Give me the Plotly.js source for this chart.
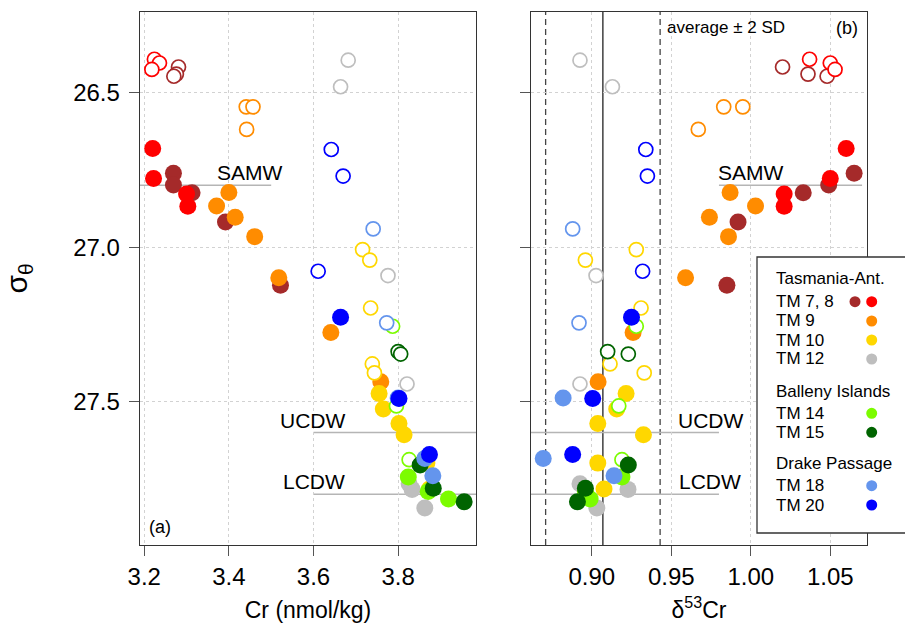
<!DOCTYPE html>
<html>
<head>
<meta charset="utf-8">
<script src="https://cdn.plot.ly/plotly-3.0.1.min.js"></script>
<style>html,body{margin:0;padding:0;background:#fff;}#chart{width:905px;height:632px;}</style>
</head>
<body>
<div id="chart"></div>
<script>
// ---------------- DATA ----------------
// Station groups (draw order)
const stationNames  = ['TM 7', 'TM 8', 'TM 9', 'TM 10', 'TM 12', 'TM 14', 'TM 15', 'TM 18', 'TM 20'];
const stationColors = ['#A52A2A', '#FF0000', '#FF8C00', '#FFD700', '#BEBEBE', '#7CFC00', '#006400', '#6495ED', '#0000FF'];

// sigma-theta, Cr (nmol/kg), d53Cr, open (1 = open symbol)
const tm7_sigma = [26.417, 26.440, 26.447, 26.761, 26.799, 26.824, 26.919, 27.123];
const tm7_cr    = [3.281, 3.276, 3.270, 3.269, 3.269, 3.313, 3.392, 3.522];
const tm7_d53   = [1.020, 1.036, 1.048, 1.065, 1.049, 1.033, 0.992, 0.985];
const tm7_open  = [1, 1, 1, 0, 0, 0, 0, 0];

const tm8_sigma = [26.392, 26.404, 26.425, 26.681, 26.778, 26.828, 26.868];
const tm8_cr    = [3.224, 3.236, 3.218, 3.220, 3.222, 3.300, 3.303];
const tm8_d53   = [1.037, 1.050, 1.053, 1.060, 1.050, 1.021, 1.021];
const tm8_open  = [1, 1, 1, 0, 0, 0, 0];

const tm9_sigma = [26.546, 26.546, 26.619, 26.823, 26.867, 26.903, 26.966, 27.099, 27.276, 27.436];
const tm9_cr    = [3.441, 3.457, 3.442, 3.400, 3.371, 3.415, 3.461, 3.518, 3.641, 3.759];
const tm9_d53   = [0.983, 0.995, 0.967, 0.987, 1.003, 0.974, 0.986, 0.959, 0.926, 0.904];
const tm9_open  = [1, 1, 1, 0, 0, 0, 0, 0, 0, 0];

const tm10_sigma = [27.008, 27.042, 27.197, 27.378, 27.407, 27.474, 27.524, 27.571, 27.607, 27.699, 27.783];
const tm10_cr    = [3.716, 3.733, 3.735, 3.739, 3.744, 3.755, 3.765, 3.802, 3.814, 3.868, 3.874];
const tm10_d53   = [0.928, 0.896, 0.931, 0.9115, 0.933, 0.9216, 0.9157, 0.9038, 0.9325, 0.9038, 0.9077];
const tm10_open  = [1, 1, 1, 1, 1, 0, 0, 0, 0, 0, 0];

const tm12_sigma = [26.395, 26.481, 27.092, 27.443, 27.766, 27.784, 27.844];
const tm12_cr    = [3.682, 3.664, 3.776, 3.821, 3.826, 3.833, 3.863];
const tm12_d53   = [0.8926, 0.913, 0.9027, 0.8926, 0.8926, 0.9228, 0.9032];
const tm12_open  = [1, 1, 1, 1, 0, 0, 0];

const tm14_sigma = [27.256, 27.514, 27.688, 27.744, 27.791, 27.815];
const tm14_cr    = [3.787, 3.796, 3.826, 3.824, 3.871, 3.919];
const tm14_d53   = [0.928, 0.917, 0.919, 0.919, 0.896, 0.899];
const tm14_open  = [1, 1, 1, 0, 0, 0];

const tm15_sigma = [27.338, 27.346, 27.705, 27.780, 27.824];
const tm15_cr    = [3.800, 3.806, 3.852, 3.883, 3.956];
const tm15_d53   = [0.910, 0.923, 0.923, 0.896, 0.891];
const tm15_open  = [1, 1, 0, 0, 0];

const tm18_sigma = [26.941, 27.245, 27.488, 27.684, 27.740];
const tm18_cr    = [3.741, 3.773, 3.800, 3.863, 3.882];
const tm18_d53   = [0.888, 0.892, 0.882, 0.8695, 0.914];
const tm18_open  = [1, 1, 0, 0, 0];

const tm20_sigma = [26.684, 26.770, 27.078, 27.227, 27.490, 27.671];
const tm20_cr    = [3.642, 3.670, 3.611, 3.664, 3.802, 3.874];
const tm20_d53   = [0.934, 0.935, 0.932, 0.925, 0.9006, 0.888];
const tm20_open  = [1, 1, 1, 0, 0, 0];

// Water masses
const waterMasses = ['SAMW', 'UCDW', 'LCDW'];
const waterMassSigma = [26.8, 27.6, 27.8];

// d53Cr average +/- 2 SD
const d53Mean = 0.907;
const d53TwoSD = 0.036;

// Tick values
const sigmaTicks = [26.5, 27.0, 27.5];
const crTicks = [3.2, 3.4, 3.6, 3.8];
const d53Ticks = [0.90, 0.95, 1.00, 1.05];

// Legend groups
const legendGroups = ['Tasmania-Ant.', 'Balleny Islands', 'Drake Passage'];
const legendLabels = ['TM 7, 8', 'TM 9', 'TM 10', 'TM 12', 'TM 14', 'TM 15', 'TM 18', 'TM 20'];

// ---------------- BUILD ----------------
const stations = [
  [tm7_sigma, tm7_cr, tm7_d53, tm7_open],
  [tm8_sigma, tm8_cr, tm8_d53, tm8_open],
  [tm9_sigma, tm9_cr, tm9_d53, tm9_open],
  [tm10_sigma, tm10_cr, tm10_d53, tm10_open],
  [tm12_sigma, tm12_cr, tm12_d53, tm12_open],
  [tm14_sigma, tm14_cr, tm14_d53, tm14_open],
  [tm15_sigma, tm15_cr, tm15_d53, tm15_open],
  [tm18_sigma, tm18_cr, tm18_d53, tm18_open],
  [tm20_sigma, tm20_cr, tm20_d53, tm20_open]
];

const FONT = 'Liberation Sans, Arial, Helvetica, sans-serif';
const traces = [];
stations.forEach((st, i) => {
  const [sig, cr, d53, open] = st;
  const col = stationColors[i];
  [1, 0].forEach(isOpen => {
    const idx = sig.map((_, k) => k).filter(k => open[k] === isOpen);
    const marker = isOpen
      ? {symbol: 'circle', size: 14, color: '#ffffff', line: {color: col, width: 1.7}}
      : {symbol: 'circle', size: 17, color: col, line: {width: 0}};
    traces.push({
      type: 'scatter', mode: 'markers', name: stationNames[i],
      x: idx.map(k => cr[k]), y: idx.map(k => sig[k]),
      xaxis: 'x', yaxis: 'y', marker: marker, showlegend: false, hoverinfo: 'x+y'
    });
    traces.push({
      type: 'scatter', mode: 'markers', name: stationNames[i],
      x: idx.map(k => d53[k]), y: idx.map(k => sig[k]),
      xaxis: 'x2', yaxis: 'y2', marker: marker, showlegend: false, hoverinfo: 'x+y'
    });
  });
});

// Geometry (pixels)
const W = 905, H = 632, ML = 140, MR = 38, MT = 12, MB = 87;
const PW = W - ML - MR, PH = H - MT - MB;
const px2x = p => (p - ML) / PW;
const px2y = p => (H - MB - p) / PH;

const xRange1 = [3.19, 3.984];
const xRange2 = [0.8618, 1.0731];
const yRange = [27.964, 26.239];

const axCommon = {
  showline: true, mirror: true, linecolor: '#333', linewidth: 1.3,
  ticks: 'outside', ticklen: 10, tickwidth: 1.2, tickcolor: '#555',
  showgrid: true, gridcolor: '#d2d2d2', griddash: 'dot', gridwidth: 1,
  zeroline: false, tickfont: {family: FONT, size: 24, color: '#000'}
};

const shapes = [];
const lineStyle = {color: '#b5b5b5', width: 1.5};
// Water mass lines
shapes.push({type: 'line', xref: 'x', yref: 'y', x0: xRange1[0], x1: 3.5, y0: waterMassSigma[0], y1: waterMassSigma[0], line: lineStyle, layer: 'below'});
shapes.push({type: 'line', xref: 'x', yref: 'y', x0: 3.6, x1: xRange1[1], y0: waterMassSigma[1], y1: waterMassSigma[1], line: lineStyle, layer: 'below'});
shapes.push({type: 'line', xref: 'x', yref: 'y', x0: 3.6, x1: xRange1[1], y0: waterMassSigma[2], y1: waterMassSigma[2], line: lineStyle, layer: 'below'});
shapes.push({type: 'line', xref: 'x2', yref: 'y2', x0: 0.98, x1: 1.070, y0: waterMassSigma[0], y1: waterMassSigma[0], line: lineStyle, layer: 'below'});
shapes.push({type: 'line', xref: 'x2', yref: 'y2', x0: xRange2[0], x1: 0.98, y0: waterMassSigma[1], y1: waterMassSigma[1], line: lineStyle, layer: 'below'});
shapes.push({type: 'line', xref: 'x2', yref: 'y2', x0: xRange2[0], x1: 0.98, y0: waterMassSigma[2], y1: waterMassSigma[2], line: lineStyle, layer: 'below'});
// average +/- 2SD
shapes.push({type: 'line', xref: 'x2', yref: 'y2 domain', x0: d53Mean, x1: d53Mean, y0: 0, y1: 1, line: {color: '#222', width: 1.3}, layer: 'below'});
[-1, 1].forEach(s => shapes.push({type: 'line', xref: 'x2', yref: 'y2 domain', x0: d53Mean + s * d53TwoSD, x1: d53Mean + s * d53TwoSD, y0: 0, y1: 1, line: {color: '#444', width: 1.3, dash: '6px,4px'}, layer: 'below'}));

// Legend box
shapes.push({type: 'rect', xref: 'paper', yref: 'paper', x0: px2x(757), x1: px2x(910), y0: px2y(533), y1: px2y(257), fillcolor: '#fff', line: {color: '#333', width: 1.3}, layer: 'above'});

const annotations = [];
const wmFont = {family: FONT, size: 21, color: '#000'};
const wmPos1 = [3.449, 3.598, 3.600];
const wmPos2 = [1.000, 0.9745, 0.9745];
waterMasses.forEach((w, i) => {
  annotations.push({xref: 'x', yref: 'y', x: wmPos1[i], y: waterMassSigma[i], text: w, showarrow: false, xanchor: 'center', yanchor: 'bottom', font: wmFont, yshift: -1});
  annotations.push({xref: 'x2', yref: 'y2', x: wmPos2[i], y: waterMassSigma[i], text: w, showarrow: false, xanchor: 'center', yanchor: 'bottom', font: wmFont, yshift: -1});
});
annotations.push({xref: 'x domain', yref: 'y domain', x: (160 - 140) / 336, y: (545 - 527) / PH, text: '(a)', showarrow: false, xanchor: 'center', yanchor: 'middle', font: {family: FONT, size: 18, color: '#000'}});
annotations.push({xref: 'x2 domain', yref: 'y2 domain', x: (847 - 531) / 336, y: (545 - 28) / PH, text: '(b)', showarrow: false, xanchor: 'center', yanchor: 'middle', font: {family: FONT, size: 18, color: '#000'}});
annotations.push({xref: 'x2 domain', yref: 'y2 domain', x: (665 - 531) / 336, y: (545 - 28) / PH, text: 'average ± 2 SD', showarrow: false, xanchor: 'left', yanchor: 'middle', font: {family: FONT, size: 17, color: '#000'}});

// Custom legend
const legFont = {family: FONT, size: 17, color: '#000'};
const headerY = [278, 391.5, 464];
const rowY = [301.7, 321, 340, 359, 413.3, 432.3, 485.7, 505];
const rowColor = ['#FF0000', '#FF8C00', '#FFD700', '#BEBEBE', '#7CFC00', '#006400', '#6495ED', '#0000FF'];
legendGroups.forEach((g, i) => annotations.push({xref: 'paper', yref: 'paper', x: px2x(774), y: px2y(headerY[i]), text: g, showarrow: false, xanchor: 'left', yanchor: 'middle', font: legFont}));
legendLabels.forEach((l, i) => {
  annotations.push({xref: 'paper', yref: 'paper', x: px2x(774), y: px2y(rowY[i]), text: l, showarrow: false, xanchor: 'left', yanchor: 'middle', font: legFont});
  const r = 5.5, cx = 871.7, cy = rowY[i];
  shapes.push({type: 'circle', xref: 'paper', yref: 'paper', x0: px2x(cx - r), x1: px2x(cx + r), y0: px2y(cy + r), y1: px2y(cy - r), fillcolor: rowColor[i], line: {width: 0}, layer: 'above'});
  if (i === 0) {
    const bx = 855;
    shapes.push({type: 'circle', xref: 'paper', yref: 'paper', x0: px2x(bx - r), x1: px2x(bx + r), y0: px2y(cy + r), y1: px2y(cy - r), fillcolor: stationColors[0], line: {width: 0}, layer: 'above'});
  }
});

const layout = {
  width: W, height: H,
  margin: {l: ML, r: MR, t: MT, b: MB, pad: 0},
  paper_bgcolor: '#fff', plot_bgcolor: '#fff',
  font: {family: FONT, color: '#000'},
  showlegend: false,
  xaxis: Object.assign({}, axCommon, {
    domain: [0, px2x(476)], range: xRange1, tickvals: crTicks, tickformat: '.1f', anchor: 'y',
    title: {text: 'Cr (nmol/kg)', font: {family: FONT, size: 23, color: '#000'}, standoff: 12}
  }),
  xaxis2: Object.assign({}, axCommon, {
    domain: [px2x(531), 1], range: xRange2, tickvals: d53Ticks, tickformat: '.2f', anchor: 'y2',
    title: {text: 'δ<sup>53</sup>Cr', font: {family: FONT, size: 23, color: '#000'}, standoff: 12}
  }),
  yaxis: Object.assign({}, axCommon, {
    domain: [0, 1], range: yRange, tickvals: sigmaTicks, tickformat: '.1f', anchor: 'x', ticklabelstandoff: 4,
    title: {text: 'σ<sub>θ</sub>', font: {family: FONT, size: 30, color: '#000'}, standoff: 40}
  }),
  yaxis2: Object.assign({}, axCommon, {
    domain: [0, 1], range: yRange, tickvals: sigmaTicks, showticklabels: false, anchor: 'x2', matches: 'y'
  }),
  shapes: shapes,
  annotations: annotations
};

Plotly.newPlot('chart', traces, layout, {displayModeBar: false, staticPlot: true});
</script>
</body>
</html>
